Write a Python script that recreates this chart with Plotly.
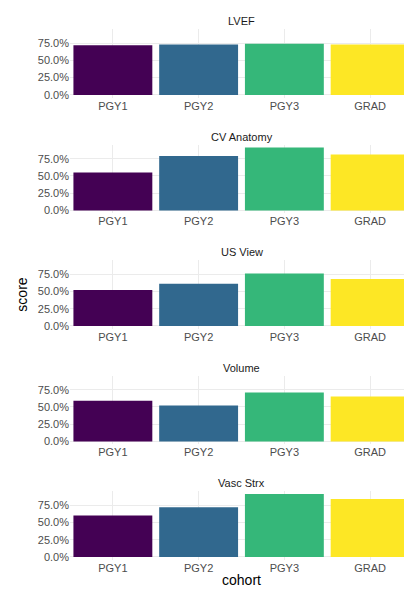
import plotly.graph_objects as go
from plotly.subplots import make_subplots

cohorts = ["PGY1", "PGY2", "PGY3", "GRAD"]
colors = ["#440154", "#31688E", "#35B779", "#FDE725"]
panels = ["LVEF", "CV Anatomy", "US View", "Volume", "Vasc Strx"]
scores = {
    "LVEF": [0.72, 0.73, 0.74, 0.73],
    "CV Anatomy": [0.55, 0.79, 0.91, 0.81],
    "US View": [0.52, 0.61, 0.76, 0.68],
    "Volume": [0.59, 0.52, 0.71, 0.65],
    "Vasc Strx": [0.60, 0.72, 0.91, 0.84],
}

fig = make_subplots(rows=5, cols=1, subplot_titles=panels, vertical_spacing=0.0876)
for i, p in enumerate(panels):
    fig.add_trace(go.Bar(x=cohorts, y=scores[p], marker_color=colors, marker_line_width=0,
                         showlegend=False), row=i + 1, col=1)
    fig.update_yaxes(range=[-0.045, 0.955], tickvals=[0, 0.25, 0.5, 0.75], tickformat=".1%",
                     gridcolor="#EBEBEB", showline=False, zeroline=False,
                     tickfont=dict(size=11, color="#4D4D4D"), row=i + 1, col=1)
    fig.update_xaxes(gridcolor="#EBEBEB", showgrid=True, tickfont=dict(size=11, color="#4D4D4D"),
                     row=i + 1, col=1)

fig.update_yaxes(title_text="score", title_font=dict(size=14, color="black"), title_standoff=6, row=3, col=1)
fig.update_xaxes(title_text="cohort", title_font=dict(size=14, color="black"), title_standoff=2, row=5, col=1)
fig.update_annotations(font=dict(size=11, color="#1A1A1A"))
fig.update_layout(width=412, height=601, margin=dict(l=62, r=7, t=21, b=49),
                  plot_bgcolor="white", paper_bgcolor="white", bargap=0.08,
                  font=dict(family="Liberation Sans"))
fig.write_html("out.html")
